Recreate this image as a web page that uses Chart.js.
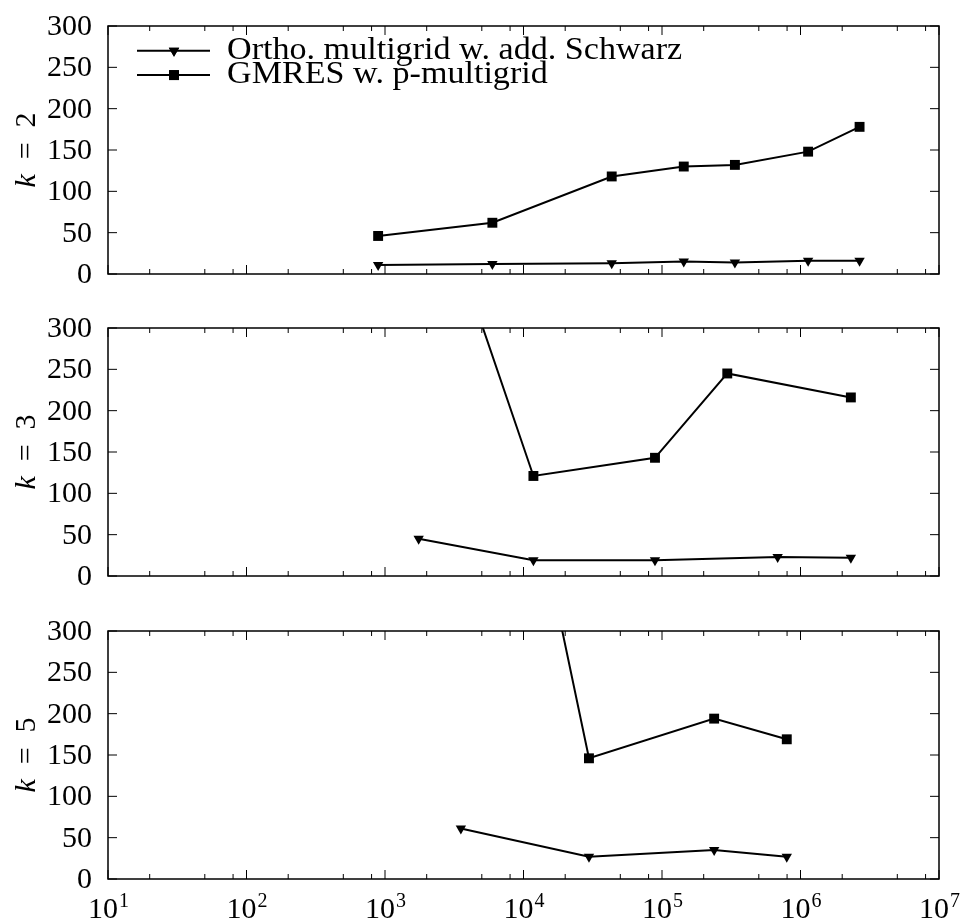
<!DOCTYPE html>
<html>
<head>
<meta charset="utf-8">
<script src="https://cdn.jsdelivr.net/npm/chart.js@4.4.0/dist/chart.umd.min.js"></script>
<style>
  body { margin: 0; background: #fff; width: 961px; height: 924px; overflow: hidden; position: relative; }
  canvas { position: absolute; left: 0; }
</style>
</head>
<body>
<canvas id="k2" width="961" height="300" style="top:0"></canvas>
<canvas id="k3" width="961" height="300" style="top:300px"></canvas>
<canvas id="k5" width="961" height="324" style="top:600px"></canvas>
<script>
var seriesNames = ['Ortho. multigrid w. add. Schwarz', 'GMRES w. p-multigrid'];
var kValues = ['2', '3', '5'];

// k = 2
var k2SchwarzX = [892, 5960, 43350, 143600, 336000, 1135000, 2670000];
var k2SchwarzY = [11, 12, 13, 15, 14, 16, 16];
var k2GmresX = [892, 5960, 43350, 143600, 336000, 1135000, 2670000];
var k2GmresY = [46, 62, 118, 130, 132, 148, 178];

// k = 3
var k3SchwarzX = [1750, 11790, 89000, 684000, 2310000];
var k3SchwarzY = [45, 19, 19, 23, 22];
var k3GmresX = [1750, 11790, 89000, 296000, 2310000];
var k3GmresY = [528, 121, 143, 245, 216];

// k = 5
var k5SchwarzX = [3530, 29700, 238000, 796000];
var k5SchwarzY = [61, 27, 35, 27];
var k5GmresX = [3530, 29700, 238000, 796000];
var k5GmresY = [885, 146, 194, 169];

var xTickExps = [1, 2, 3, 4, 5, 6, 7];
var xMinorMult = [2, 5, 8];
var yTicks = [0, 50, 100, 150, 200, 250, 300];

var serif = '"Liberation Serif", "DejaVu Serif", serif';

function pts(xs, ys) {
  return xs.map(function (x, i) { return { x: x, y: ys[i] }; });
}

// frame, inward ticks, tick labels, y title, legend
var framePlugin = {
  id: 'frame',
  afterDraw: function (chart) {
    var o = chart.options.plugins.frame;
    var ctx = chart.ctx, a = chart.chartArea;
    var xs = chart.scales.x, ys = chart.scales.y;
    ctx.save();
    ctx.strokeStyle = '#000';
    ctx.lineWidth = 1;
    ctx.beginPath();
    xTickExps.forEach(function (e) {
      var p = xs.getPixelForValue(Math.pow(10, e));
      ctx.moveTo(p, a.bottom); ctx.lineTo(p, a.bottom - 9);
      ctx.moveTo(p, a.top); ctx.lineTo(p, a.top + 9);
      if (e < 7) {
        xMinorMult.forEach(function (m) {
          var q = xs.getPixelForValue(m * Math.pow(10, e));
          ctx.moveTo(q, a.bottom); ctx.lineTo(q, a.bottom - 5);
          ctx.moveTo(q, a.top); ctx.lineTo(q, a.top + 5);
        });
      }
    });
    yTicks.forEach(function (v) {
      var p = ys.getPixelForValue(v);
      ctx.moveTo(a.left, p); ctx.lineTo(a.left + 9, p);
      ctx.moveTo(a.right, p); ctx.lineTo(a.right - 9, p);
    });
    ctx.stroke();
    ctx.lineWidth = 1.5;
    ctx.strokeRect(a.left, a.top, a.right - a.left, a.bottom - a.top);

    // y tick labels
    ctx.fillStyle = '#000';
    ctx.font = '30px ' + serif;
    ctx.textAlign = 'right';
    ctx.textBaseline = 'middle';
    yTicks.forEach(function (v) {
      ctx.fillText(String(v), a.left - 16, ys.getPixelForValue(v) + 1);
    });

    // y title: italic k = value
    ctx.textAlign = 'left';
    ctx.textBaseline = 'alphabetic';
    ctx.translate(35, (a.top + a.bottom) / 2);
    ctx.rotate(-Math.PI / 2);
    ctx.font = 'italic 30px ' + serif;
    var wk = ctx.measureText('k').width;
    ctx.font = '30px ' + serif;
    var rest = '  =  ' + o.k;
    var wr = ctx.measureText(rest).width;
    var x0 = -(wk + wr) / 2;
    ctx.font = 'italic 30px ' + serif;
    ctx.fillText('k', x0, 0);
    ctx.font = '30px ' + serif;
    ctx.fillText(rest, x0 + wk, 0);
    ctx.setTransform(1, 0, 0, 1, 0, 0);

    if (o.legend) {
      chart.data.datasets.forEach(function (ds, i) {
        var y = 50.7 + i * 24.4;
        ctx.strokeStyle = '#000';
        ctx.lineWidth = 2;
        ctx.beginPath();
        ctx.moveTo(137, y); ctx.lineTo(210, y);
        ctx.stroke();
        ctx.fillStyle = '#000';
        Chart.helpers.drawPoint(ctx, {
          pointStyle: ds.pointStyle, rotation: ds.pointRotation,
          radius: ds.pointRadius, borderWidth: 0
        }, 174, y);
        ctx.fill();
        ctx.save();
        ctx.translate(227, y + 8);
        ctx.scale(1.1, 1);
        ctx.font = '31px ' + serif;
        ctx.fillText(ds.label, 0, 0);
        ctx.restore();
      });
    }

    if (o.xLabels) {
      xTickExps.forEach(function (e) {
        var p = xs.getPixelForValue(Math.pow(10, e));
        ctx.font = '30px ' + serif;
        var wb = ctx.measureText('10').width;
        ctx.font = '20px ' + serif;
        var we = ctx.measureText(String(e)).width;
        var sx = p - (wb + we) / 2;
        ctx.font = '30px ' + serif;
        ctx.fillText('10', sx, a.bottom + 39);
        ctx.font = '20px ' + serif;
        ctx.fillText(String(e), sx + wb + 1, a.bottom + 28);
      });
    }
    ctx.restore();
  }
};

function makePanel(id, k, schX, schY, gmX, gmY, pad, legend, xLabels) {
  var ctx = document.getElementById(id).getContext('2d');
  return new Chart(ctx, {
    type: 'line',
    data: {
      datasets: [
        {
          label: seriesNames[0],
          data: pts(schX, schY),
          borderColor: '#000',
          backgroundColor: '#000',
          borderWidth: 2,
          pointStyle: 'triangle',
          pointRotation: 180,
          pointRadius: 6,
          pointBorderWidth: 0,
          clip: 0
        },
        {
          label: seriesNames[1],
          data: pts(gmX, gmY),
          borderColor: '#000',
          backgroundColor: '#000',
          borderWidth: 2,
          pointStyle: 'rect',
          pointRadius: 7,
          pointBorderWidth: 0,
          clip: 0
        }
      ]
    },
    options: {
      responsive: false,
      animation: false,
      devicePixelRatio: 1,
      layout: { padding: pad },
      scales: {
        x: { type: 'logarithmic', min: 10, max: 1e7, display: false },
        y: {
          min: 0,
          max: 300,
          afterFit: function (s) { s.width = 108; },
          grid: { display: false, drawTicks: false },
          border: { display: false },
          ticks: { display: false, stepSize: 50 }
        }
      },
      plugins: {
        legend: { display: false },
        tooltip: { enabled: false },
        frame: { k: k, legend: legend, xLabels: xLabels }
      }
    },
    plugins: [framePlugin]
  });
}

makePanel('k2', kValues[0], k2SchwarzX, k2SchwarzY, k2GmresX, k2GmresY,
  { left: 0, right: 22, top: 26, bottom: 26 }, true, false);
makePanel('k3', kValues[1], k3SchwarzX, k3SchwarzY, k3GmresX, k3GmresY,
  { left: 0, right: 22, top: 28, bottom: 24 }, false, false);
makePanel('k5', kValues[2], k5SchwarzX, k5SchwarzY, k5GmresX, k5GmresY,
  { left: 0, right: 22, top: 31, bottom: 45 }, false, true);
</script>
</body>
</html>
